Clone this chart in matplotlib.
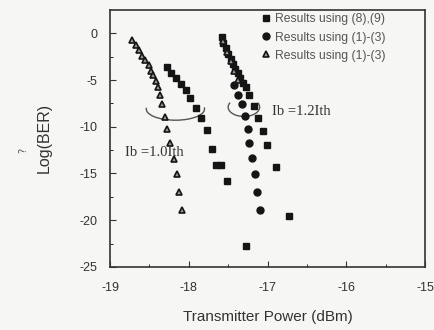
import numpy as np
import matplotlib
matplotlib.use('Agg')
import matplotlib.pyplot as plt
from matplotlib.patches import Arc

plt.rcParams['axes.unicode_minus'] = False

# datos
# Ib = 1.0 Ith
sq10_x = [-18.28, -18.22, -18.16, -18.10, -18.04, -17.98, -17.91, -17.84, -17.77, -17.71, -17.65, -17.59, -17.52]
sq10_y = [-3.6, -4.2, -4.8, -5.4, -6.1, -6.9, -8.0, -9.1, -10.3, -12.4, -14.1, -14.1, -15.8]
tri10_x = [-18.72, -18.67, -18.63, -18.59, -18.55, -18.51, -18.48, -18.45, -18.42, -18.39, -18.36,
           -18.34, -18.30, -18.28, -18.24, -18.19, -18.15, -18.12, -18.08]
tri10_y = [-0.7, -1.3, -1.8, -2.4, -2.9, -3.4, -4.0, -4.5, -5.1, -5.8, -6.6,
           -7.6, -9.0, -10.2, -11.7, -13.5, -15.1, -17.0, -18.9]

# Ib = 1.2 Ith
sq12_x = [-17.58, -17.56, -17.53, -17.50, -17.47, -17.44, -17.41, -17.38, -17.35, -17.31, -17.27,
          -17.23, -17.17, -17.12, -17.06, -17.01, -16.89, -16.73, -17.27]
sq12_y = [-0.4, -1.0, -1.6, -2.2, -2.8, -3.3, -3.8, -4.3, -4.8, -5.3, -5.8,
          -6.6, -7.8, -9.1, -10.5, -11.9, -14.3, -19.6, -22.8]
circ12_x = [-17.42, -17.37, -17.33, -17.28, -17.25, -17.23, -17.20, -17.16, -17.13, -17.10]
circ12_y = [-5.5, -6.6, -7.6, -8.8, -10.2, -11.7, -13.3, -15.1, -17.0, -18.9]
tri12_x = [-17.57, -17.52, -17.47, -17.42, -17.37]
tri12_y = [-0.8, -2.0, -3.0, -4.0, -5.0]

labels = ['Results using (8),(9)', 'Results using (1)-(3)', 'Results using (1)-(3)']

fig = plt.figure(figsize=(4.35, 3.3), dpi=100, facecolor='#f6f6f4')
ax = fig.add_axes([0.253, 0.191, 0.724, 0.779])
ax.set_facecolor('#f6f6f4')

ms = 4.6
ax.plot(sq10_x + sq12_x, sq10_y + sq12_y, 's', color='#151515', ms=ms, label=labels[0])
ax.plot(circ12_x, circ12_y, 'o', color='#151515', ms=ms + 0.4, label=labels[1])
ax.plot(tri10_x + tri12_x, tri10_y + tri12_y, '^', mfc='#999999', mec='#151515', mew=1.2,
        ms=ms, label=labels[2])

# elipses
ax.add_patch(Arc((-18.17, -8.1), 0.74, 2.4, theta1=160, theta2=385, color='#555555', lw=1.0))
ax.add_patch(Arc((-17.30, -7.9), 0.40, 2.0, theta1=110, theta2=430, color='#555555', lw=1.0))
ax.text(-18.81, -12.8, 'Ib =1.0Ith', family='Liberation Serif', fontsize=10.5, va='center', color='#333333')
ax.text(-16.94, -8.4, 'Ib =1.2Ith', family='Liberation Serif', fontsize=10.5, va='center', color='#333333')

ax.set_xlim(-19, -15)
ax.set_ylim(-25, 2.5)
ax.set_xticks([-19, -18, -17, -16, -15])
ax.set_yticks([0, -5, -10, -15, -20, -25])
ax.set_xticks(np.arange(-19, -15, 0.5), minor=True)
ax.set_yticks(np.arange(-25, 2.5, 2.5), minor=True)
ax.tick_params(which='major', direction='in', length=4, width=0.8, labelsize=9, colors='#333333', pad=9)
ax.tick_params(axis='x', which='major', pad=11)
ax.tick_params(which='minor', direction='in', length=2, width=0.6)
for t in ax.get_xticklabels() + ax.get_yticklabels():
    t.set_family('Liberation Sans')
for s in ax.spines.values():
    s.set_linewidth(1.2)
    s.set_color('#333333')

ax.set_xlabel('Transmitter Power (dBm)', family='Liberation Sans', fontsize=11, color='#333333', labelpad=11)
ax.set_ylabel('Log(BER)', family='Liberation Sans', fontsize=11.5, color='#333333', labelpad=20)
fig.text(0.053, 0.545, '?', rotation=90, fontsize=7, color='#555555', ha='center', va='center')

leg = ax.legend(loc='upper left', bbox_to_anchor=(0.479, 0.986), frameon=False, fontsize=8.7,
                handletextpad=0.4, labelspacing=0.5, handlelength=0.8, borderaxespad=0, borderpad=0)
for t in leg.get_texts():
    t.set_family('Liberation Sans')
    t.set_color('#555555')

fig.savefig('out.png', dpi=100, facecolor=fig.get_facecolor())
